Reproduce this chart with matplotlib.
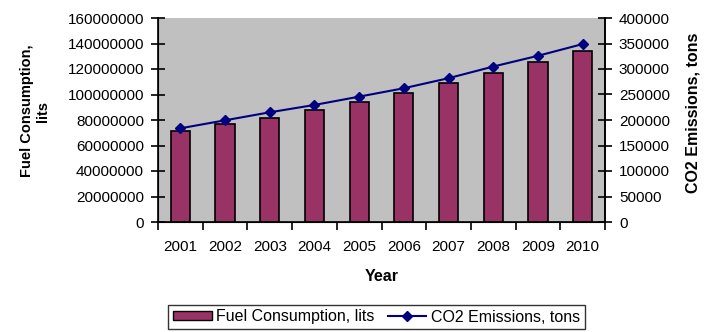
import matplotlib
matplotlib.use("Agg")
import matplotlib.pyplot as plt
from matplotlib.lines import Line2D
from matplotlib.patches import Patch
import numpy as np

plt.rcParams['font.family'] = ['Liberation Sans', 'DejaVu Sans']
FS = 11

# Datos: consumo de combustible (litros) y emisiones de CO2 (toneladas)
years = ['2001', '2002', '2003', '2004', '2005', '2006', '2007', '2008', '2009', '2010']
fuel = [71600000, 76600000, 81300000, 87600000, 93900000,
        101500000, 109300000, 117200000, 125100000, 134500000]
co2 = [183700, 199400, 215100, 229500, 245800,
       262300, 282000, 304800, 325900, 348900]

fig = plt.figure(figsize=(7.09, 3.32), dpi=100)
ax = fig.add_axes([158 / 709, 1 - 222 / 332, 447 / 709, 204 / 332])
ax.set_facecolor('#C0C0C0')

x = np.arange(len(years))
ax.bar(x, fuel, width=0.43, color='#993366', edgecolor='black', linewidth=1.2, zorder=2)
ax.set_xlim(-0.5, len(years) - 0.5)
ax.set_ylim(0, 160000000)
ax.set_yticks(np.arange(0, 160000001, 20000000))
ax.set_yticklabels([str(v) for v in range(0, 160000001, 20000000)], fontsize=FS)

# Eje X: etiquetas centradas y marcas entre categorías
ax.set_xticks(x)
ax.set_xticklabels(years, fontsize=FS)
ax.tick_params(axis='x', length=0, pad=13)
ax.set_xticks(np.arange(-0.5, len(years)), minor=True)
ax.tick_params(axis='x', which='minor', length=6, width=1.2, direction='out')
ax.tick_params(axis='y', length=10, width=1.2, direction='inout', pad=5)

ax.set_xlabel('Year', fontsize=11.5, fontweight='bold', labelpad=11)
ax.set_ylabel('Fuel Consumption,\nlits', fontsize=10.5, fontweight='bold',
              multialignment='center')
ax.yaxis.set_label_coords(-0.2416, 0.544)

for side in ['left', 'right', 'top', 'bottom']:
    ax.spines[side].set_linewidth(1.2)
ax.spines['top'].set_visible(False)

# Segundo eje para las emisiones
ax2 = ax.twinx()
ax2.plot(x, co2, color='#000080', linewidth=1.5, marker='D', markersize=5, zorder=3)
ax2.set_ylim(0, 400000)
ax2.set_yticks(np.arange(0, 400001, 50000))
ax2.set_yticklabels([str(v) for v in range(0, 400001, 50000)], fontsize=FS)
ax2.tick_params(axis='y', length=10, width=1.2, direction='inout', pad=5)
ax2.set_ylabel('CO2 Emissions, tons', fontsize=11.5, fontweight='bold')
ax2.yaxis.set_label_coords(1.179, 0.537)
ax2.spines['top'].set_visible(False)
ax2.spines['right'].set_linewidth(1.2)

handles = [Patch(facecolor='#993366', edgecolor='black', linewidth=1.0),
           Line2D([0], [0], color='#000080', linewidth=1.5, marker='D', markersize=5)]
leg = fig.legend(handles, ['Fuel Consumption, lits', 'CO2 Emissions, tons'],
                 loc='center', bbox_to_anchor=(376.5 / 709, 1 - 317 / 332), ncol=2,
                 fontsize=11.5, frameon=True, fancybox=False, edgecolor='black',
                 handlelength=2.4, handleheight=0.5, handletextpad=0.3,
                 columnspacing=0.8, borderpad=0.3, borderaxespad=0)
leg.get_frame().set_linewidth(1.0)

fig.savefig('out.png', dpi=100)
